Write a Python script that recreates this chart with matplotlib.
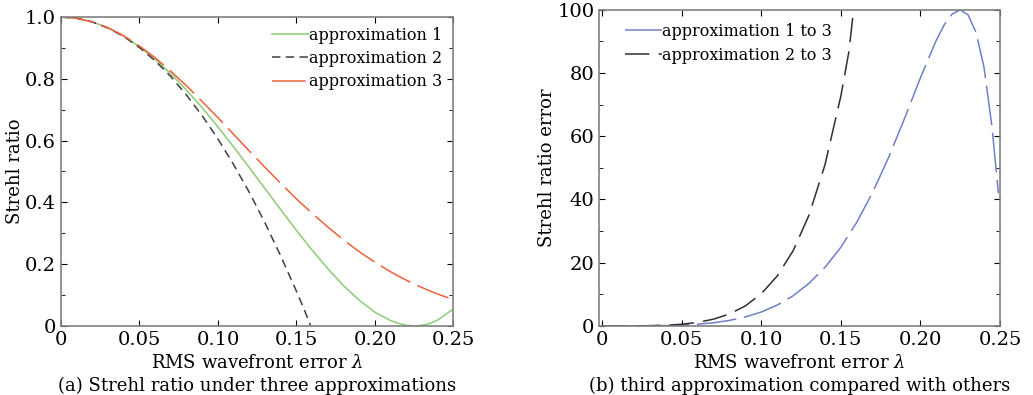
import matplotlib
matplotlib.use('Agg')
import matplotlib.pyplot as plt
from matplotlib.ticker import MultipleLocator

plt.rcParams['font.family'] = 'DejaVu Serif'
plt.rcParams['mathtext.fontset'] = 'dejavuserif'

# RMS wavefront error (waves)
sigma = [0, 0.01, 0.02, 0.03, 0.04, 0.05, 0.06, 0.07, 0.08, 0.09, 0.10, 0.11, 0.12,
         0.13, 0.14, 0.15, 0.16, 0.17, 0.18, 0.19, 0.20, 0.21, 0.215, 0.22, 0.225, 0.23,
         0.235, 0.24, 0.25]
approx1 = [1.0, 0.996, 0.984, 0.965, 0.938, 0.904, 0.863, 0.816, 0.763, 0.706, 0.644, 0.579,
           0.512, 0.444, 0.376, 0.309, 0.245, 0.185, 0.130, 0.083, 0.044, 0.017, 0.008, 0.002,
           0.0, 0.002, 0.008, 0.019, 0.055]
approx3 = [1.0, 0.996, 0.984, 0.965, 0.939, 0.906, 0.868, 0.824, 0.777, 0.726, 0.674, 0.620,
           0.566, 0.513, 0.461, 0.411, 0.364, 0.320, 0.278, 0.240, 0.206, 0.175, 0.161, 0.148,
           0.135, 0.124, 0.113, 0.103, 0.085]
sigma2 = [0, 0.01, 0.02, 0.03, 0.04, 0.05, 0.06, 0.07, 0.08, 0.09, 0.10, 0.11, 0.12,
          0.13, 0.14, 0.15, 0.155, 0.159]
approx2 = [1.0, 0.996, 0.984, 0.964, 0.937, 0.901, 0.858, 0.807, 0.747, 0.680, 0.605, 0.522,
           0.432, 0.333, 0.226, 0.112, 0.052, 0.0]

# relative error of approximations 1 and 2 against approximation 3 (%)
sigma_e1 = [0, 0.01, 0.02, 0.03, 0.04, 0.05, 0.06, 0.07, 0.08, 0.09, 0.10, 0.11, 0.12,
            0.13, 0.14, 0.15, 0.16, 0.17, 0.18, 0.19, 0.20, 0.21, 0.215, 0.22, 0.225, 0.23,
            0.235, 0.24, 0.245, 0.249]
err13 = [0, 0, 0.01, 0.03, 0.1, 0.25, 0.53, 0.99, 1.73, 2.82, 4.40, 6.59, 9.55, 13.5, 18.5,
         24.9, 32.8, 42.3, 53.3, 65.6, 78.5, 90.4, 95.3, 98.7, 100.0, 98.4, 92.8, 81.8, 63.0,
         42.0]
sigma_e2 = [0, 0.01, 0.02, 0.03, 0.04, 0.05, 0.06, 0.07, 0.08, 0.09, 0.10, 0.11, 0.12,
            0.13, 0.14, 0.15, 0.155, 0.158]
err23 = [0, 0, 0.01, 0.07, 0.21, 0.52, 1.11, 2.13, 3.78, 6.34, 10.2, 15.8, 23.8, 35.1, 51.0,
         72.8, 86.7, 100.0]

fig = plt.figure(figsize=(10.33, 3.95), dpi=100)
ax1 = fig.add_axes([0.059, 0.175, 0.380, 0.782])
ax2 = fig.add_axes([0.580, 0.175, 0.388, 0.800])

ax1.plot(sigma, approx1, color='#8ccb78', lw=1.1, label='approximation 1')
ax1.plot(sigma2, approx2, color='#404040', lw=1.1, dashes=(5.5, 3.5), label='approximation 2')
ax1.plot(sigma, approx3, color='#f0603c', lw=1.1, dashes=(22, 5), label='approximation 3')
ax1.set_xlim(0, 0.25)
ax1.set_ylim(0, 1.0)
ax1.set_xticks([0, 0.05, 0.10, 0.15, 0.20, 0.25])
ax1.set_xticklabels(['0', '0.05', '0.10', '0.15', '0.20', '0.25'])
ax1.set_yticks([0, 0.2, 0.4, 0.6, 0.8, 1.0])
ax1.set_yticklabels(['0', '0.2', '0.4', '0.6', '0.8', '1.0'])
ax1.yaxis.set_minor_locator(MultipleLocator(0.1))
ax1.set_ylabel('Strehl ratio', fontsize=13, labelpad=1)
ax1.set_xlabel('RMS wavefront error $\\lambda$\n(a) Strehl ratio under three approximations',
               fontsize=13, linespacing=1.3, labelpad=4)
ax1.legend(loc='upper right', frameon=False, fontsize=11.5, handlelength=2.3,
           handletextpad=0.0, labelspacing=0.4, borderaxespad=0.3,
           bbox_to_anchor=(1.0, 1.005))

ax2.plot(sigma_e1, err13, color='#6f80c8', lw=1.1, dashes=(26, 5), label='approximation 1 to 3')
ax2.plot(sigma_e2, err23, color='#303030', lw=1.1, dashes=(16, 6), label='approximation 2 to 3')
ax2.set_xlim(-0.002, 0.249)
ax2.set_ylim(0, 100)
ax2.set_xticks([0, 0.05, 0.10, 0.15, 0.20, 0.25])
ax2.set_xticklabels(['0', '0.05', '0.10', '0.15', '0.20', '0.25'])
ax2.yaxis.set_major_locator(MultipleLocator(20))
ax2.yaxis.set_minor_locator(MultipleLocator(10))
ax2.set_ylabel('Strehl ratio error', fontsize=13, labelpad=1)
ax2.set_xlabel('RMS wavefront error $\\lambda$\n(b) third approximation compared with others',
               fontsize=13, linespacing=1.3, labelpad=4)
ax2.legend(loc='upper left', frameon=False, fontsize=11.5, handlelength=2.3,
           handletextpad=0.0, labelspacing=0.45, borderaxespad=0.6,
           bbox_to_anchor=(0.025, 1.01))

for ax in (ax1, ax2):
    ax.tick_params(which='both', direction='in', top=True, right=True, labelsize=14)
    ax.tick_params(which='major', length=4)
    ax.tick_params(which='minor', length=3)
    for sp in ax.spines.values():
        sp.set_color('#808080')
        sp.set_linewidth(1.2)

fig.savefig('out.png', dpi=100)
